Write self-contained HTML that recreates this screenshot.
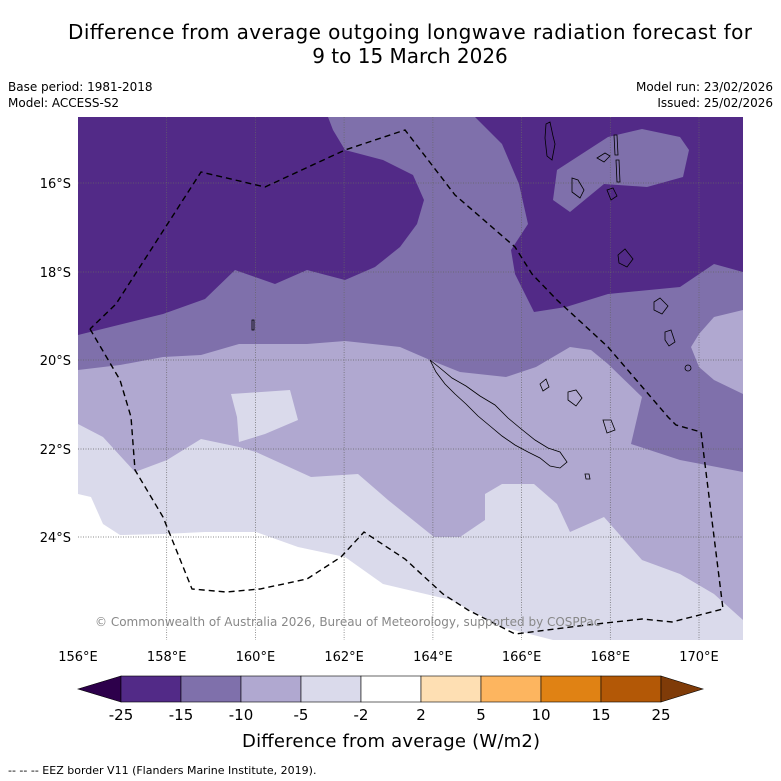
<!DOCTYPE html>
<html><head><meta charset="utf-8"><style>
body{margin:0;background:#fff;}
svg{display:block;font-family:"DejaVu Sans","Liberation Sans",sans-serif;}
</style></head><body>
<svg width="781" height="781" viewBox="0 0 781 781">
<text x="410" y="39" font-size="20" text-anchor="middle" textLength="684">Difference from average outgoing longwave radiation forecast for</text>
<text x="410" y="63" font-size="20" text-anchor="middle">9 to 15 March 2026</text>
<text x="8" y="91" font-size="12">Base period: 1981-2018</text>
<text x="8" y="107" font-size="12">Model: ACCESS-S2</text>
<text x="773" y="91" font-size="12" text-anchor="end">Model run: 23/02/2026</text>
<text x="773" y="107" font-size="12" text-anchor="end">Issued: 25/02/2026</text>
<defs><clipPath id="mc"><rect x="78" y="117" width="665" height="523"/></clipPath></defs>
<g clip-path="url(#mc)">
<rect x="78" y="117" width="665" height="523" fill="#522a87"/>
<polygon fill="#7f70ab" points="328,117 333,130 345,150 383,160 413,175 424,200 417,224 400,247 375,267 345,280 307,270 275,284 235,270 205,299 163,314 78,335 78,640 743,640 743,272 714,264 680,287 608,294 566,307 534,312 515,274 511,250 528,224 519,184 502,144 475,117"/>
<polygon fill="#7f70ab" points="557,170 608,137 642,129 680,137 689,150 683,177 647,187 604,184 570,212 553,200"/>
<polygon fill="#b0a8d0" points="78,370 120,365 163,357 201,355 239,344 307,344 345,341 400,347 430,360 460,372 506,377 536,367 570,347 591,350 608,364 642,397 631,444 680,460 743,472 743,640 78,640"/>
<polygon fill="#b0a8d0" points="743,310 714,317 699,334 691,347 699,367 714,380 743,394"/>
<polygon fill="#dadaeb" points="78,424 103,437 135,472 167,460 201,439 239,447 256,452 311,477 358,474 388,500 434,537 460,537 485,520 485,494 502,484 534,484 557,504 570,532 604,517 642,560 680,574 714,594 743,620 743,640 78,640"/>
<polygon fill="#dadaeb" points="231,394 290,390 298,420 265,434 239,442 237,417"/>
<polygon fill="#ffffff" points="78,494 91,497 103,524 120,535 163,534 205,532 256,532 298,547 345,557 383,584 451,600 502,627 553,640 78,640"/>
<g stroke="#666" stroke-width="0.7" stroke-dasharray="1,1.5">
<line x1="166.7" y1="117" x2="166.7" y2="640"/><line x1="255.4" y1="117" x2="255.4" y2="640"/><line x1="344.1" y1="117" x2="344.1" y2="640"/><line x1="432.9" y1="117" x2="432.9" y2="640"/><line x1="521.6" y1="117" x2="521.6" y2="640"/><line x1="610.3" y1="117" x2="610.3" y2="640"/><line x1="699" y1="117" x2="699" y2="640"/>
<line x1="78" y1="183" x2="743" y2="183"/><line x1="78" y1="272" x2="743" y2="272"/><line x1="78" y1="360" x2="743" y2="360"/><line x1="78" y1="449" x2="743" y2="449"/><line x1="78" y1="537" x2="743" y2="537"/>
</g>
<g fill="none" stroke="#000" stroke-width="0.8">
<polygon points="430,360 440,368 452,378 466,386 480,396 495,405 508,418 520,428 535,440 548,448 560,452 567,462 560,468 550,466 540,458 528,452 515,445 502,436 490,426 478,416 466,404 455,394 445,384 436,372"/>
<path d="M546,124 l4,-2 3,14 2,8 -3,16 -5,-4 -2,-18z"/>
<path d="M597,158 l8,-5 5,3 -6,6z"/><path d="M614,135 l3,0 1,20 -3,0z"/><path d="M616,160 l3,0 1,22 -3,0z"/>
<path d="M572,178 l6,2 6,10 -4,8 -8,-6z"/><path d="M607,190 l6,-2 4,8 -6,4z"/><path d="M618,255 l7,-6 8,10 -6,8 -8,-4z"/>
<path d="M654,302 l6,-4 8,8 -6,8 -8,-4z"/><path d="M665,332 l6,-2 4,12 -6,4 -4,-6z"/><circle cx="688" cy="368" r="3"/>
<path d="M540,384 l6,-5 3,8 -6,4z"/><path d="M568,392 l8,-2 6,8 -6,8 -8,-6z"/><path d="M603,420 l8,0 4,10 -8,3z"/><path d="M585,474 l4,0 1,5 -4,0z"/>
<path d="M252,320 l2,0 0,10 -2,0z"/>
</g>
<polyline fill="none" stroke="#000" stroke-width="1.4" stroke-dasharray="6,4" points="90,329 120,380 131,417 135,470 163,517 192,589 226,592 260,589 307,579 341,557 364,532 405,559 443,594 468,610 515,634 587,625 642,619 672,622 723,609 701,432 676,425 668,417 608,347 557,300 532,274 515,247 455,195 405,130 345,150 265,187 201,172 116,304 90,329"/>
<text x="95" y="626" font-size="12" fill="#888">© Commonwealth of Australia 2026, Bureau of Meteorology, supported by COSPPac</text>
</g>
<g font-size="13" text-anchor="middle">
<text x="78" y="661">156°E</text><text x="166.7" y="661">158°E</text><text x="255.4" y="661">160°E</text><text x="344.1" y="661">162°E</text><text x="432.9" y="661">164°E</text><text x="521.6" y="661">166°E</text><text x="610.3" y="661">168°E</text><text x="699" y="661">170°E</text>
</g>
<g font-size="13" text-anchor="end">
<text x="71" y="188">16°S</text><text x="71" y="277">18°S</text><text x="71" y="365">20°S</text><text x="71" y="454">22°S</text><text x="71" y="542">24°S</text>
</g>
<g stroke="#000" stroke-width="0.6">
<polygon points="78,689 121,676 121,702" fill="#2d004b"/>
<rect x="121" y="676" width="60" height="26" fill="#522a87"/><rect x="181" y="676" width="60" height="26" fill="#7f70ab"/><rect x="241" y="676" width="60" height="26" fill="#b0a8d0"/><rect x="301" y="676" width="60" height="26" fill="#dadaeb"/><rect x="361" y="676" width="60" height="26" fill="#ffffff"/><rect x="421" y="676" width="60" height="26" fill="#fedfb3"/><rect x="481" y="676" width="60" height="26" fill="#fdb55f"/><rect x="541" y="676" width="60" height="26" fill="#e08214"/><rect x="601" y="676" width="60" height="26" fill="#b35806"/>
<polygon points="661,676 703,689 661,702" fill="#7f3b08"/>
</g>
<g font-size="15" text-anchor="middle">
<text x="121" y="720">-25</text><text x="181" y="720">-15</text><text x="241" y="720">-10</text><text x="301" y="720">-5</text><text x="361" y="720">-2</text><text x="421" y="720">2</text><text x="481" y="720">5</text><text x="541" y="720">10</text><text x="601" y="720">15</text><text x="661" y="720">25</text>
</g>
<text x="391" y="747" font-size="18" text-anchor="middle" textLength="298">Difference from average (W/m2)</text>
<text x="8" y="774" font-size="11">-- -- -- EEZ border V11 (Flanders Marine Institute, 2019).</text>
</svg>
</body></html>
